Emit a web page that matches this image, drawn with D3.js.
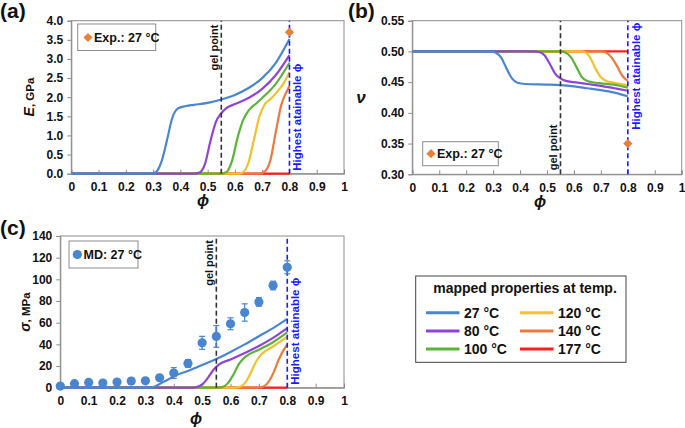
<!DOCTYPE html>
<html><head><meta charset="utf-8">
<script src="https://cdn.jsdelivr.net/npm/d3@7/dist/d3.min.js"></script>
<style>
body{margin:0;background:#fff}
text{font-family:"Liberation Sans",Arial,sans-serif;font-weight:bold;fill:#111}
</style>
</head><body>
<svg id="chart" width="685" height="428"></svg>
<script>
// ---------------- DATA ----------------
const temps = ["27 °C","80 °C","100 °C","120 °C","140 °C","177 °C"];
const colors = ["#4a86cf","#8e44d8","#5bb33a","#f2c12e","#ec7a3c","#ff1e1e"];
const xTickValues = [0,0.1,0.2,0.3,0.4,0.5,0.6,0.7,0.8,0.9,1];
const xTickLabels = ["0","0.1","0.2","0.3","0.4","0.5","0.6","0.7","0.8","0.9","1"];
const gelPoint = 0.55;
const highestPhi = 0.8;

// (a) Young's modulus E (GPa)
const E_27  = [[0,0],[0.29,0],[0.31,0.04],[0.33,0.3],[0.35,0.85],[0.37,1.45],[0.39,1.7],[0.42,1.77],[0.45,1.8],[0.5,1.85],[0.55,1.94],[0.6,2.06],[0.65,2.24],[0.7,2.5],[0.75,2.9],[0.8,3.52]];
const E_80  = [[0,0],[0.45,0],[0.47,0.03],[0.49,0.25],[0.51,0.85],[0.53,1.35],[0.55,1.58],[0.57,1.72],[0.6,1.82],[0.65,1.98],[0.7,2.22],[0.75,2.58],[0.8,3.1]];
const E_100 = [[0,0],[0.55,0],[0.57,0.05],[0.59,0.35],[0.61,0.95],[0.63,1.4],[0.65,1.65],[0.68,1.85],[0.7,1.98],[0.75,2.35],[0.8,2.9]];
const E_120 = [[0,0],[0.61,0],[0.63,0.04],[0.65,0.3],[0.67,0.9],[0.69,1.5],[0.71,1.82],[0.73,1.95],[0.75,2.1],[0.78,2.38],[0.8,2.65]];
const E_140 = [[0,0],[0.69,0],[0.71,0.06],[0.73,0.35],[0.75,1.1],[0.77,1.8],[0.79,2.15],[0.8,2.3]];
const E_177 = [[0,0],[0.8,0]];
const E_exp = [[0.8,3.7]];

// (b) Poisson's ratio nu
const nu_27  = [[0,0.5],[0.29,0.5],[0.31,0.498],[0.33,0.49],[0.35,0.472],[0.37,0.456],[0.39,0.449],[0.42,0.447],[0.5,0.446],[0.55,0.445],[0.6,0.443],[0.65,0.44],[0.7,0.437],[0.75,0.433],[0.8,0.427]];
const nu_80  = [[0,0.5],[0.45,0.5],[0.47,0.499],[0.49,0.494],[0.51,0.48],[0.53,0.464],[0.55,0.456],[0.57,0.452],[0.6,0.45],[0.65,0.447],[0.7,0.444],[0.75,0.44],[0.8,0.436]];
const nu_100 = [[0,0.5],[0.55,0.5],[0.57,0.498],[0.59,0.49],[0.61,0.474],[0.63,0.458],[0.65,0.452],[0.68,0.449],[0.7,0.448],[0.75,0.446],[0.8,0.441]];
const nu_120 = [[0,0.5],[0.62,0.5],[0.64,0.499],[0.66,0.49],[0.68,0.472],[0.7,0.458],[0.72,0.452],[0.75,0.449],[0.8,0.445]];
const nu_140 = [[0,0.5],[0.7,0.5],[0.72,0.498],[0.74,0.49],[0.76,0.476],[0.78,0.46],[0.8,0.452]];
const nu_177 = [[0,0.5],[0.8,0.5]];
const nu_exp = [[0.8,0.35]];

// (c) strength sigma (MPa)
const s_27  = [[0,0],[0.31,0],[0.33,0.8],[0.35,3.5],[0.38,7.5],[0.4,10.5],[0.45,15.5],[0.5,21],[0.55,26.5],[0.6,33],[0.65,40],[0.7,47.5],[0.75,55],[0.8,63.5]];
const s_80  = [[0,0],[0.46,0],[0.48,0.5],[0.5,3],[0.52,9],[0.54,16.5],[0.56,21.5],[0.6,26],[0.65,32],[0.7,38.5],[0.75,46],[0.8,55]];
const s_100 = [[0,0],[0.55,0],[0.57,0.5],[0.59,4],[0.61,12],[0.63,22],[0.65,28],[0.7,35],[0.75,42],[0.8,51]];
const s_120 = [[0,0],[0.61,0],[0.63,0.5],[0.65,4],[0.67,13],[0.69,24],[0.71,31],[0.75,38],[0.8,47]];
const s_140 = [[0,0],[0.69,0],[0.71,0.5],[0.73,4],[0.75,13],[0.77,26],[0.79,36],[0.8,40]];
const s_177 = [[0,0],[0.8,0]];
const md_phi = [0,0.05,0.1,0.15,0.2,0.25,0.3,0.35,0.4,0.45,0.5,0.55,0.6,0.65,0.7,0.75,0.8];
const md_sigma = [1.5,3.7,4.9,4.3,5.2,6.1,6.4,9.2,13.5,22.4,41.4,47.3,59,69.4,79.2,94.3,111.1];
const md_err = [0.8,1,1,1,1,1,1.2,1.5,5,3.5,6,10,5.5,8,4,4,6];

// ---------------- DRAW ----------------
const svg = d3.select("#chart");
const GRAY = "#8c8c8c";

function panel(cfg){
  const x = d3.scaleLinear().domain([0,1]).range(cfg.xr);
  const y = d3.scaleLinear().domain(cfg.yd).range(cfg.yr);
  const g = svg.append("g");
  // plot border
  g.append("rect").attr("x",cfg.xr[0]).attr("y",cfg.yr[1])
    .attr("width",cfg.xr[1]-cfg.xr[0]).attr("height",cfg.yr[0]-cfg.yr[1])
    .attr("fill","none").attr("stroke",GRAY).attr("stroke-width",1);
  // y axis
  const ya = g.append("g").attr("transform",`translate(${cfg.xr[0]},0)`)
    .call(d3.axisLeft(y).tickValues(cfg.yticks).tickFormat(cfg.yfmt).tickSize(4).tickPadding(4));
  // x axis
  const xa = g.append("g").attr("transform",`translate(0,${cfg.yr[0]})`)
    .call(d3.axisBottom(x).tickValues(xTickValues).tickFormat((d,i)=>xTickLabels[i]).tickSize(-4).tickPadding(9));
  [ya,xa].forEach(a=>{
    a.select(".domain").attr("stroke",GRAY);
    a.selectAll(".tick line").attr("stroke",GRAY);
    a.selectAll("text").attr("font-size",12).attr("font-weight","bold")
      .attr("font-family",'"Liberation Sans",Arial,sans-serif').attr("fill","#111");
  });
  // lines (red first, blue last)
  const line = d3.line().x(d=>x(d[0])).y(d=>y(d[1])).curve(d3.curveMonotoneX);
  for(let i=cfg.series.length-1;i>=0;i--){
    g.append("path").datum(cfg.series[i]).attr("d",line)
      .attr("fill","none").attr("stroke",colors[i]).attr("stroke-width",2.2);
  }
  // gel point line
  g.append("line").attr("x1",x(gelPoint)).attr("x2",x(gelPoint))
    .attr("y1",cfg.yr[0]).attr("y2",cfg.yr[1])
    .attr("stroke","#333").attr("stroke-width",1.6).attr("stroke-dasharray","5,3");
  // highest attainable line
  g.append("line").attr("x1",x(highestPhi)).attr("x2",x(highestPhi))
    .attr("y1",cfg.yr[0]).attr("y2",cfg.yr[1])
    .attr("stroke","#1a1aff").attr("stroke-width",1.6).attr("stroke-dasharray","5,3");
  // gel label
  const gy = cfg.gelTop ? cfg.yr[1]+4 : cfg.yr[0]-4;
  g.append("text").attr("transform",`translate(${x(gelPoint)-7},${gy}) rotate(-90)`)
    .attr("text-anchor",cfg.gelTop?"end":"start").attr("dominant-baseline","central")
    .attr("font-size",11).text("gel point");
  const hy = cfg.hiTop ? cfg.yr[1]+2 : cfg.yr[0]-3;
  g.append("text").attr("transform",`translate(${x(highestPhi)+8},${hy}) rotate(-90)`)
    .attr("text-anchor",cfg.hiTop?"end":"start").attr("dominant-baseline","central")
    .attr("font-size",11.5).style("fill","#1a1aff").text("Highest atainable ϕ");
  // x title
  g.append("text").attr("x",cfg.xt[0]).attr("y",cfg.xt[1]).attr("text-anchor","middle")
    .attr("font-size",16).attr("font-style","italic").text("ϕ");
  // panel label
  g.append("text").attr("x",cfg.pl[0]).attr("y",cfg.pl[1]).attr("font-size",21).text(cfg.label);
  return {g,x,y};
}

function diamond(g,cx,cy){
  g.append("path").attr("d",d3.symbol(d3.symbolSquare,42)())
    .attr("transform",`translate(${cx},${cy}) rotate(45)`).attr("fill","#e8803a");
}

// (a)
const A = panel({xr:[71.3,344],yr:[173.7,20.7],yd:[0,4],
  yticks:[0,0.5,1,1.5,2,2.5,3,3.5,4],yfmt:d3.format(".1f"),
  series:[E_27,E_80,E_100,E_120,E_140,E_177],gelTop:true,hiTop:false,
  xt:[203,206],pl:[0,18],label:"(a)"});
E_exp.forEach(d=>diamond(A.g,A.x(d[0]),A.y(d[1])));
A.g.append("text").attr("transform","translate(34,97) rotate(-90)").attr("text-anchor","middle")
  .call(t=>{t.append("tspan").attr("font-size",14).attr("font-style","italic").text("E");
            t.append("tspan").attr("font-size",11.5).text(", GPa");});
A.g.append("rect").attr("x",77.7).attr("y",24).attr("width",78).attr("height",26.5)
  .attr("fill","#fff").attr("stroke",GRAY);
diamond(A.g,88,37.5);
A.g.append("text").attr("x",94).attr("y",42).attr("font-size",12.5).text("Exp.: 27 °C");

// (b)
const B = panel({xr:[412.3,681.7],yr:[174.3,20.7],yd:[0.3,0.55],
  yticks:[0.3,0.35,0.4,0.45,0.5,0.55],yfmt:d3.format(".2f"),
  series:[nu_27,nu_80,nu_100,nu_120,nu_140,nu_177],gelTop:false,hiTop:true,
  xt:[540,207],pl:[348,18],label:"(b)"});
nu_exp.forEach(d=>diamond(B.g,B.x(d[0]),B.y(d[1])));
B.g.append("text").attr("x",361).attr("y",103).attr("text-anchor","middle")
  .attr("font-size",17).attr("font-style","italic").text("ν");
B.g.append("rect").attr("x",422.7).attr("y",141.7).attr("width",75.6).attr("height",24)
  .attr("fill","#fff").attr("stroke",GRAY);
diamond(B.g,431,153.7);
B.g.append("text").attr("x",437).attr("y",158).attr("font-size",12.5).text("Exp.: 27 °C");

// (c)
const C = panel({xr:[60.3,344],yr:[387.7,236],yd:[0,140],
  yticks:[0,20,40,60,80,100,120,140],yfmt:d3.format("d"),
  series:[s_27,s_80,s_100,s_120,s_140,s_177],gelTop:true,hiTop:false,
  xt:[196,424],pl:[0,235],label:"(c)"});
const mdG = C.g.append("g");
md_phi.forEach((p,i)=>{
  const cx=C.x(p), y0=C.y(md_sigma[i]-md_err[i]), y1=C.y(md_sigma[i]+md_err[i]);
  mdG.append("line").attr("x1",cx).attr("x2",cx).attr("y1",y0).attr("y2",y1).attr("stroke","#4a86cf").attr("stroke-width",1.2);
  mdG.append("line").attr("x1",cx-3).attr("x2",cx+3).attr("y1",y0).attr("y2",y0).attr("stroke","#4a86cf").attr("stroke-width",1.2);
  mdG.append("line").attr("x1",cx-3).attr("x2",cx+3).attr("y1",y1).attr("y2",y1).attr("stroke","#4a86cf").attr("stroke-width",1.2);
  mdG.append("circle").attr("cx",cx).attr("cy",C.y(md_sigma[i])).attr("r",4.6).attr("fill","#4a86cf");
});
C.g.append("text").attr("transform","translate(30,312) rotate(-90)").attr("text-anchor","middle")
  .call(t=>{t.append("tspan").attr("font-size",14).attr("font-style","italic").text("σ");
            t.append("tspan").attr("font-size",11.5).text(", MPa");});
C.g.append("rect").attr("x",69).attr("y",241).attr("width",69).attr("height",27)
  .attr("fill","#fff").attr("stroke",GRAY);
C.g.append("circle").attr("cx",77.3).attr("cy",254.5).attr("r",4.6).attr("fill","#4a86cf");
C.g.append("text").attr("x",83.5).attr("y",259).attr("font-size",12.5).text("MD: 27 °C");

// main legend
const L = svg.append("g");
L.append("rect").attr("x",415.7).attr("y",276).attr("width",210.3).attr("height",86.3)
  .attr("fill","#fff").attr("stroke","#444").attr("stroke-width",1);
L.append("text").attr("x",525).attr("y",292.5).attr("text-anchor","middle").attr("font-size",14)
  .text("mapped properties at temp.");
temps.forEach((t,i)=>{
  const col=Math.floor(i/3), row=i%3;
  const lx = col===0?426:520, ly = [312.7,331,349][row];
  L.append("line").attr("x1",lx).attr("x2",lx+33.5).attr("y1",ly).attr("y2",ly)
    .attr("stroke",colors[i]).attr("stroke-width",3);
  L.append("text").attr("x",lx+38).attr("y",ly+5).attr("font-size",14).text(t);
});
</script>
</body></html>
